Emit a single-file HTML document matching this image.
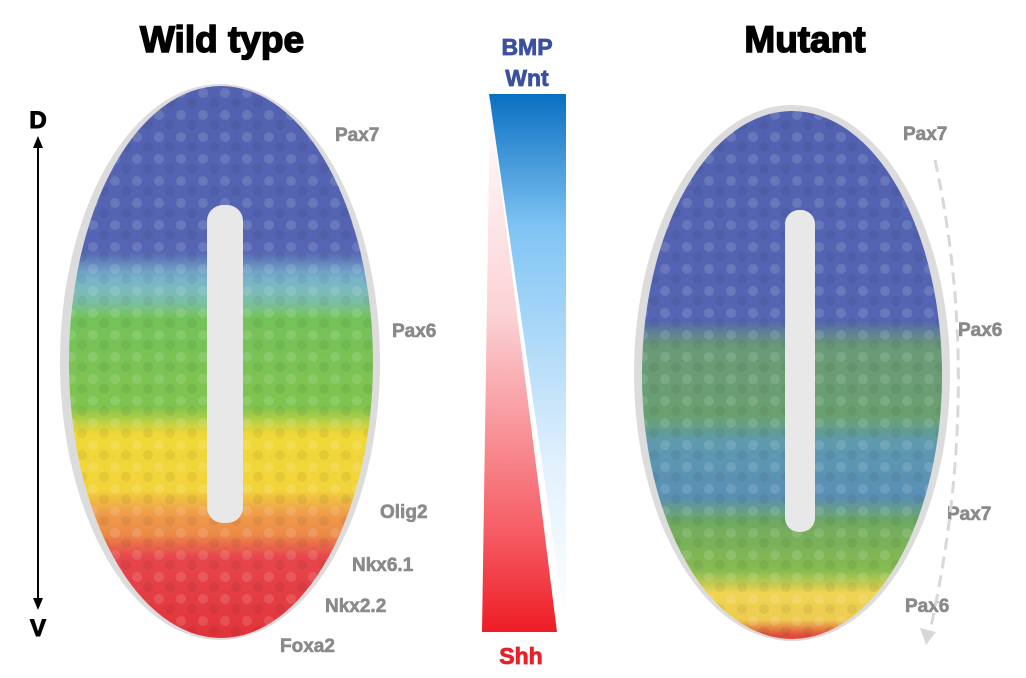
<!DOCTYPE html>
<html><head><meta charset="utf-8"><style>
html,body{margin:0;padding:0;background:#fff;}
svg{display:block;}
text{font-family:"Liberation Sans",Arial,sans-serif;font-weight:bold;}
</style></head><body>
<svg width="1026" height="678" viewBox="0 0 1026 678" xmlns="http://www.w3.org/2000/svg">
<defs>
<linearGradient id="bl" x1="0" y1="0" x2="0" y2="1">
<stop offset="0" stop-color="#0a6fc0"/><stop offset="0.25" stop-color="#80c4f4"/><stop offset="0.7" stop-color="#e4f2fd"/><stop offset="1" stop-color="#ffffff"/></linearGradient>
<linearGradient id="rd" x1="0" y1="0" x2="0" y2="1">
<stop offset="0" stop-color="#ffffff"/><stop offset="0.4" stop-color="#fbd3d6"/><stop offset="0.8" stop-color="#f66068"/><stop offset="1" stop-color="#ee1d25"/></linearGradient>
<linearGradient id="gl" gradientUnits="userSpaceOnUse" x1="0" y1="84" x2="0" y2="640">
<stop offset="0" stop-color="#5262b0"/><stop offset="0.30" stop-color="#5565b3"/>
<stop offset="0.35" stop-color="#78b4cc"/><stop offset="0.39" stop-color="#7cbfa8"/>
<stop offset="0.42" stop-color="#74c25a"/><stop offset="0.58" stop-color="#80c450"/>
<stop offset="0.63" stop-color="#f0d838"/><stop offset="0.73" stop-color="#f2d43a"/>
<stop offset="0.77" stop-color="#ef9e4a"/><stop offset="0.81" stop-color="#ec8a48"/>
<stop offset="0.85" stop-color="#e6474c"/><stop offset="1" stop-color="#e0333a"/></linearGradient>
<linearGradient id="gr" gradientUnits="userSpaceOnUse" x1="0" y1="105" x2="0" y2="641">
<stop offset="0" stop-color="#5262b0"/><stop offset="0.40" stop-color="#5565b3"/>
<stop offset="0.45" stop-color="#6a9a78"/><stop offset="0.58" stop-color="#6aa070"/>
<stop offset="0.63" stop-color="#5e9ab0"/><stop offset="0.73" stop-color="#5a8fb5"/>
<stop offset="0.78" stop-color="#70aa60"/><stop offset="0.87" stop-color="#88bc50"/>
<stop offset="0.91" stop-color="#efd452"/><stop offset="0.96" stop-color="#eecc50"/>
<stop offset="0.99" stop-color="#e04a3c"/></linearGradient>
<pattern id="dots" width="22" height="22" patternUnits="userSpaceOnUse">
<circle cx="5" cy="5" r="5" fill="#fff" fill-opacity="0.12"/>
<circle cx="16" cy="15" r="5" fill="#000" fill-opacity="0.06"/>
</pattern>
</defs>
<text x="222" y="52" font-size="37" text-anchor="middle" fill="#000" stroke="#000" stroke-width="1.5">Wild type</text>
<text x="805" y="52" font-size="37" text-anchor="middle" fill="#000" stroke="#000" stroke-width="1.5">Mutant</text>
<text x="527" y="55" font-size="23" text-anchor="middle" fill="#3b50a0" stroke="#3b50a0" stroke-width="0.8">BMP</text>
<text x="527" y="86" font-size="23" text-anchor="middle" fill="#3b50a0" stroke="#3b50a0" stroke-width="0.8">Wnt</text>
<text x="521" y="664" font-size="23" text-anchor="middle" fill="#e8202a" stroke="#e8202a" stroke-width="0.8">Shh</text>
<polygon points="489,94 566,94 566,630" fill="url(#bl)"/>
<polygon points="490,100 482,632 557,632" fill="url(#rd)"/>
<ellipse cx="220" cy="362" rx="160" ry="278" fill="#dcdcdc"/>
<ellipse cx="792" cy="373" rx="158" ry="268" fill="#dcdcdc"/>
<ellipse cx="221" cy="362" rx="152" ry="276" fill="url(#gl)"/>
<ellipse cx="221" cy="362" rx="152" ry="276" fill="url(#dots)"/>
<ellipse cx="792" cy="375" rx="150" ry="264" fill="url(#gr)"/>
<ellipse cx="792" cy="375" rx="150" ry="264" fill="url(#dots)"/>
<rect x="207" y="205" width="36" height="318" rx="16" fill="#e8e8e8"/>
<rect x="785" y="210" width="30" height="322" rx="14" fill="#e8e8e8"/>
<text x="38" y="128" font-size="24" text-anchor="middle" fill="#000" stroke="#000" stroke-width="1">D</text>
<text x="38" y="636" font-size="24" text-anchor="middle" fill="#000" stroke="#000" stroke-width="1">V</text>
<line x1="38" y1="142" x2="38" y2="604" stroke="#000" stroke-width="2"/>
<polygon points="38,136 33,148 43,148" fill="#000"/>
<polygon points="38,610 33,598 43,598" fill="#000"/>
<g font-size="19" fill="#8a8a8a" stroke="#8a8a8a" stroke-width="0.6">
<text x="335" y="141">Pax7</text>
<text x="392" y="337">Pax6</text>
<text x="380" y="518">Olig2</text>
<text x="352" y="571">Nkx6.1</text>
<text x="325" y="612">Nkx2.2</text>
<text x="280" y="652">Foxa2</text>
<text x="903" y="140">Pax7</text>
<text x="958" y="336">Pax6</text>
<text x="947" y="520">Pax7</text>
<text x="905" y="612">Pax6</text>
</g>
<path d="M935,160 Q985,390 928,640" fill="none" stroke="#d8d8d8" stroke-width="3" stroke-dasharray="12,7"/>
<polygon points="926,645 920,628 936,632" fill="#d8d8d8"/>
</svg>
</body></html>
